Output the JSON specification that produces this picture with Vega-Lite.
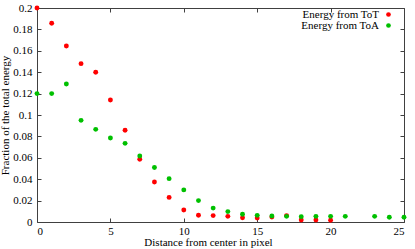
{
  "$schema": "https://vega.github.io/schema/vega-lite/v6.json",
  "width": 367,
  "height": 214,
  "autosize": {"type": "none"},
  "padding": {"left": 37, "top": 8, "right": 11, "bottom": 27},
  "background": "white",
  "config": {
    "font": "Liberation Serif",
    "view": {"stroke": null},
    "axis": {
      "domainColor": "#404040",
      "tickColor": "#404040",
      "grid": false,
      "labelFont": "Liberation Serif",
      "labelFontSize": 11,
      "labelColor": "#000000",
      "titleFont": "Liberation Serif",
      "titleFontSize": 11,
      "titleFontWeight": "normal",
      "titleColor": "#000000",
      "tickSize": -4,
      "labelPadding": 9
    }
  },
  "data": {
    "values": [
      {"d": 0, "frac": 0.2, "series": "Energy from ToT"},
      {"d": 1, "frac": 0.1857, "series": "Energy from ToT"},
      {"d": 2, "frac": 0.1645, "series": "Energy from ToT"},
      {"d": 3, "frac": 0.148, "series": "Energy from ToT"},
      {"d": 4, "frac": 0.140, "series": "Energy from ToT"},
      {"d": 5, "frac": 0.114, "series": "Energy from ToT"},
      {"d": 6, "frac": 0.0857, "series": "Energy from ToT"},
      {"d": 7, "frac": 0.0586, "series": "Energy from ToT"},
      {"d": 8, "frac": 0.0374, "series": "Energy from ToT"},
      {"d": 9, "frac": 0.023, "series": "Energy from ToT"},
      {"d": 10, "frac": 0.0112, "series": "Energy from ToT"},
      {"d": 11, "frac": 0.0063, "series": "Energy from ToT"},
      {"d": 12, "frac": 0.006, "series": "Energy from ToT"},
      {"d": 13, "frac": 0.0053, "series": "Energy from ToT"},
      {"d": 14, "frac": 0.004, "series": "Energy from ToT"},
      {"d": 15, "frac": 0.0037, "series": "Energy from ToT"},
      {"d": 16, "frac": 0.0047, "series": "Energy from ToT"},
      {"d": 17, "frac": 0.006, "series": "Energy from ToT"},
      {"d": 18, "frac": 0.0019, "series": "Energy from ToT"},
      {"d": 19, "frac": 0.0019, "series": "Energy from ToT"},
      {"d": 20, "frac": 0.0016, "series": "Energy from ToT"},
      {"d": 0, "frac": 0.12, "series": "Energy from ToA"},
      {"d": 1, "frac": 0.12, "series": "Energy from ToA"},
      {"d": 2, "frac": 0.129, "series": "Energy from ToA"},
      {"d": 3, "frac": 0.095, "series": "Energy from ToA"},
      {"d": 4, "frac": 0.0866, "series": "Energy from ToA"},
      {"d": 5, "frac": 0.0785, "series": "Energy from ToA"},
      {"d": 6, "frac": 0.0735, "series": "Energy from ToA"},
      {"d": 7, "frac": 0.0617, "series": "Energy from ToA"},
      {"d": 8, "frac": 0.051, "series": "Energy from ToA"},
      {"d": 9, "frac": 0.0405, "series": "Energy from ToA"},
      {"d": 10, "frac": 0.030, "series": "Energy from ToA"},
      {"d": 11, "frac": 0.020, "series": "Energy from ToA"},
      {"d": 12, "frac": 0.013, "series": "Energy from ToA"},
      {"d": 13, "frac": 0.0097, "series": "Energy from ToA"},
      {"d": 14, "frac": 0.0072, "series": "Energy from ToA"},
      {"d": 15, "frac": 0.0062, "series": "Energy from ToA"},
      {"d": 16, "frac": 0.0056, "series": "Energy from ToA"},
      {"d": 17, "frac": 0.0053, "series": "Energy from ToA"},
      {"d": 18, "frac": 0.005, "series": "Energy from ToA"},
      {"d": 19, "frac": 0.0053, "series": "Energy from ToA"},
      {"d": 20, "frac": 0.0053, "series": "Energy from ToA"},
      {"d": 21, "frac": 0.0053, "series": "Energy from ToA"},
      {"d": 23, "frac": 0.0053, "series": "Energy from ToA"},
      {"d": 24, "frac": 0.0044, "series": "Energy from ToA"},
      {"d": 25, "frac": 0.0044, "series": "Energy from ToA"}
    ]
  },
  "layer": [
    {
      "mark": {"type": "point", "filled": true, "size": 24, "opacity": 1, "clip": false},
      "encoding": {
        "x": {
          "field": "d", "type": "quantitative",
          "scale": {"domain": [0, 25], "nice": false, "zero": false},
          "axis": {"values": [0, 5, 10, 15, 20, 25], "title": "Distance from center in pixel", "labelPadding": 7, "titlePadding": 0, "titleAnchor": "middle", "titleX": 171}
        },
        "y": {
          "field": "frac", "type": "quantitative",
          "scale": {"domain": [0, 0.2], "nice": false},
          "axis": {"values": [0, 0.02, 0.04, 0.06, 0.08, 0.1, 0.12, 0.14, 0.16, 0.18, 0.2], "format": ".2~f", "title": "Fraction of the total energy", "titlePadding": 2}
        },
        "color": {
          "field": "series", "type": "nominal",
          "scale": {"domain": ["Energy from ToT", "Energy from ToA"], "range": ["#ff0000", "#00c000"]},
          "legend": {
            "title": null,
            "orient": "none",
            "legendX": 346,
            "legendY": 1,
            "padding": 0,
            "symbolType": "circle",
            "symbolSize": 22,
            "symbolStrokeWidth": 0,
            "labelAlign": "right",
            "labelOffset": -15,
            "labelFontSize": 11,
            "labelFont": "Liberation Serif",
            "labelColor": "#000000",
            "rowPadding": -3,
            "symbolOpacity": 1
          }
        }
      }
    },
    {
      "mark": {"type": "point", "opacity": 0},
      "encoding": {
        "x": {
          "field": "d", "type": "quantitative",
          "axis": {"orient": "top", "values": [0, 5, 10, 15, 20, 25], "labels": false, "title": null}
        },
        "y": {
          "field": "frac", "type": "quantitative",
          "axis": {"orient": "right", "values": [0, 0.02, 0.04, 0.06, 0.08, 0.1, 0.12, 0.14, 0.16, 0.18, 0.2], "labels": false, "title": null}
        }
      }
    }
  ],
  "resolve": {"axis": {"x": "independent", "y": "independent"}}
}
